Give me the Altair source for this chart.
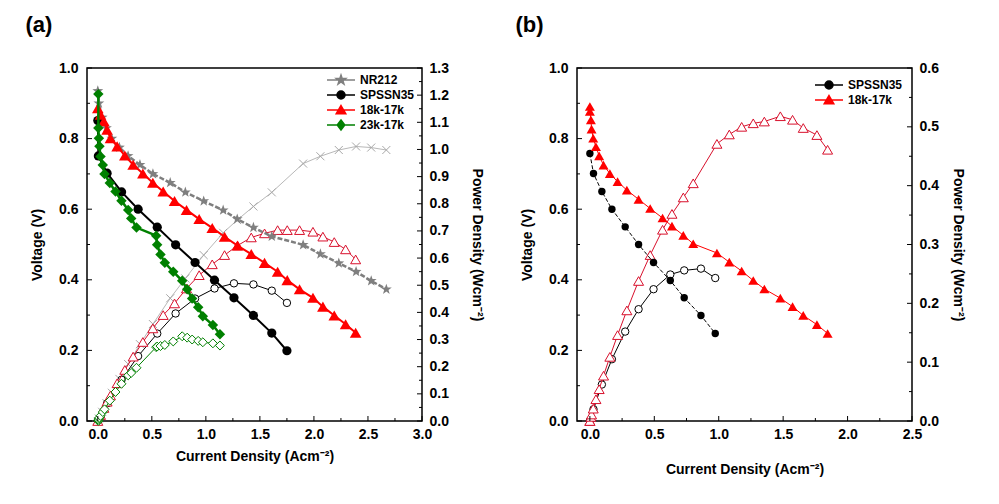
import altair as alt
import pandas as pd

# ---------------- Panel (a) data ----------------
a_nr_x = [0.0, 0.01, 0.04, 0.08, 0.13, 0.20, 0.28, 0.39, 0.51, 0.67, 0.81, 0.98, 1.16, 1.29, 1.44, 1.61, 1.90, 2.06, 2.23, 2.39, 2.53, 2.67]
a_nr_v = [0.935, 0.90, 0.86, 0.83, 0.80, 0.775, 0.751, 0.726, 0.700, 0.675, 0.648, 0.623, 0.597, 0.572, 0.548, 0.523, 0.499, 0.473, 0.447, 0.423, 0.397, 0.373]
a_nr_p = [0.0, 0.009, 0.034, 0.066, 0.104, 0.155, 0.21, 0.283, 0.357, 0.452, 0.525, 0.611, 0.693, 0.740, 0.790, 0.842, 0.948, 0.975, 0.998, 1.011, 1.007, 0.998]

a_sp_x = [0.0, 0.005, 0.086, 0.22, 0.373, 0.55, 0.72, 0.90, 1.08, 1.26, 1.44, 1.61, 1.75]
a_sp_v = [0.851, 0.751, 0.702, 0.649, 0.600, 0.549, 0.499, 0.449, 0.399, 0.349, 0.299, 0.249, 0.199]
a_sp_p = [0.0, 0.004, 0.065, 0.152, 0.239, 0.322, 0.396, 0.451, 0.488, 0.507, 0.503, 0.480, 0.435]

a_18_x = [0.0, 0.025, 0.056, 0.086, 0.117, 0.179, 0.25, 0.327, 0.417, 0.509, 0.605, 0.71, 0.821, 0.938, 1.059, 1.173, 1.293, 1.42, 1.543, 1.664, 1.753, 1.867, 1.991, 2.083, 2.188, 2.293, 2.386]
a_18_v = [0.886, 0.868, 0.849, 0.825, 0.801, 0.778, 0.752, 0.726, 0.701, 0.675, 0.650, 0.623, 0.598, 0.572, 0.547, 0.522, 0.497, 0.473, 0.448, 0.423, 0.399, 0.373, 0.349, 0.324, 0.299, 0.274, 0.250]
a_18_p = [0.0, 0.022, 0.048, 0.071, 0.094, 0.139, 0.188, 0.237, 0.291, 0.341, 0.390, 0.433, 0.488, 0.537, 0.577, 0.611, 0.646, 0.676, 0.691, 0.703, 0.703, 0.703, 0.697, 0.679, 0.659, 0.632, 0.595]

a_23_x = [0.005, 0.005, 0.01, 0.015, 0.025, 0.046, 0.062, 0.111, 0.164, 0.219, 0.281, 0.309, 0.358, 0.54, 0.549, 0.58, 0.62, 0.698, 0.781, 0.827, 0.873, 0.929, 0.972, 1.065, 1.13]
a_23_v = [0.926, 0.830, 0.801, 0.778, 0.749, 0.725, 0.700, 0.674, 0.650, 0.624, 0.598, 0.574, 0.548, 0.525, 0.499, 0.472, 0.448, 0.423, 0.397, 0.373, 0.347, 0.322, 0.297, 0.272, 0.246]
a_23_p = [0.0, 0.004, 0.008, 0.012, 0.019, 0.033, 0.043, 0.075, 0.107, 0.137, 0.168, 0.177, 0.196, 0.272, 0.274, 0.276, 0.280, 0.293, 0.312, 0.307, 0.300, 0.295, 0.290, 0.286, 0.278]

# ---------------- Panel (b) data ----------------
b_sp_x = [0.0, 0.028, 0.093, 0.171, 0.274, 0.378, 0.494, 0.624, 0.732, 0.862, 0.973]
b_sp_v = [0.758, 0.701, 0.650, 0.600, 0.550, 0.500, 0.449, 0.398, 0.349, 0.299, 0.248]
b_sp_p = [0.0, 0.020, 0.062, 0.105, 0.152, 0.190, 0.224, 0.249, 0.256, 0.259, 0.243]

b_18_x = [0.0, 0.0, 0.008, 0.013, 0.026, 0.047, 0.072, 0.106, 0.155, 0.215, 0.287, 0.378, 0.468, 0.564, 0.637, 0.725, 0.802, 0.986, 1.082, 1.178, 1.268, 1.354, 1.478, 1.573, 1.656, 1.762, 1.845]
b_18_v = [0.891, 0.877, 0.853, 0.827, 0.801, 0.777, 0.751, 0.725, 0.701, 0.678, 0.654, 0.628, 0.602, 0.575, 0.552, 0.526, 0.502, 0.476, 0.450, 0.425, 0.398, 0.374, 0.348, 0.324, 0.299, 0.273, 0.248]
b_18_p = [0.0, 0.0, 0.007, 0.011, 0.021, 0.037, 0.054, 0.077, 0.109, 0.146, 0.188, 0.238, 0.282, 0.325, 0.352, 0.380, 0.404, 0.471, 0.487, 0.500, 0.506, 0.509, 0.518, 0.512, 0.498, 0.486, 0.461]

# ---------------- axes ticks ----------------
a_x_major = [0.0, 0.5, 1.0, 1.5, 2.0, 2.5, 3.0]
a_x_minor = [0.25, 0.75, 1.25, 1.75, 2.25, 2.75]
b_x_major = [0.0, 0.5, 1.0, 1.5, 2.0, 2.5]
b_x_minor = [0.25, 0.75, 1.25, 1.75, 2.25]
v_major = [0.0, 0.2, 0.4, 0.6, 0.8, 1.0]
v_minor = [0.1, 0.3, 0.5, 0.7, 0.9]
a_p_major = [0.0, 0.1, 0.2, 0.3, 0.4, 0.5, 0.6, 0.7, 0.8, 0.9, 1.0, 1.1, 1.2, 1.3]
a_p_minor = [0.05, 0.15, 0.25, 0.35, 0.45, 0.55, 0.65, 0.75, 0.85, 0.95, 1.05, 1.15, 1.25]
b_p_major = [0.0, 0.1, 0.2, 0.3, 0.4, 0.5, 0.6]
b_p_minor = [0.05, 0.15, 0.25, 0.35, 0.45, 0.55]

a_names = ["NR212", "SPSSN35", "18k-17k", "23k-17k"]
b_names = ["SPSSN35", "18k-17k"]

FONT = "Liberation Sans"
W, H = 335, 353
RED = "#ff0000"
RED_P = "#d8102c"
GREEN = "#008000"
GRAY = "#7f7f7f"
LGRAY = "#b8b8b8"

STAR = "M0,-1L0.235,-0.324L0.951,-0.309L0.38,0.124L0.588,0.809L0,0.4L-0.588,0.809L-0.38,0.124L-0.951,-0.309L-0.235,-0.324Z"
XMARK = "M-1,-1L1,1M-1,1L1,-1"
LINE = "M-3.5,0H3.5"
L_STAR = LINE + "M0,-1.25L0.29,-0.4L1.19,-0.39L0.48,0.16L0.74,1.01L0,0.5L-0.74,1.01L-0.48,0.16L-1.19,-0.39L-0.29,-0.4Z"
L_CIRC = LINE + "M1,0A1,1,0,1,1,-1,0A1,1,0,1,1,1,0Z"
L_TRI = LINE + "M0,-1.1L1.2,0.95L-1.2,0.95Z"
L_DIA = LINE + "M0,-1.25L0.95,0L0,1.25L-0.95,0Z"


def sc(dom):
    return alt.Scale(domain=dom, nice=False, zero=False)


def legend_layer(names, colors, paths, lx, ly):
    df = pd.DataFrame({"series": names})
    leg = alt.Legend(orient="none", legendX=lx, legendY=ly, title=None, labelFont=FONT,
                     labelFontSize=12, labelFontWeight="bold", labelColor="black",
                     symbolSize=64, symbolStrokeWidth=1.5, labelOffset=13, rowPadding=0,
                     symbolOpacity=1)
    return alt.Chart(df).transform_filter("false").mark_point(filled=True, opacity=1).encode(
        shape=alt.Shape("series:N", scale=alt.Scale(domain=names, range=paths), legend=leg),
        fill=alt.Fill("series:N", scale=alt.Scale(domain=names, range=colors), legend=leg),
        stroke=alt.Stroke("series:N", scale=alt.Scale(domain=names, range=colors), legend=leg),
    )


def panel(title, xdom, xmaj, xmin, pdom, pmaj, pmin, v_series, p_series, legend, xt_pad, rt_pad):
    h = H
    vdom = [0.0, 1.0]
    xaxis = alt.Axis(values=xmaj, format=".1f", title="Current Density (Acm\u207B\u00B2)",
                     labelPadding=6, titlePadding=xt_pad, labelFlush=False)
    vaxis = alt.Axis(values=v_major, format=".1f", title="Voltage (V)", orient="left",
                     labelPadding=9, titlePadding=14)
    paxis = alt.Axis(values=pmaj, format=".1f", title="Power Density (Wcm\u207B\u00B2)", orient="right",
                     labelPadding=7, titlePadding=rt_pad)

    def X(field="x"):
        return alt.X(field + ":Q", scale=sc(xdom), axis=xaxis)

    def YV(field="v"):
        return alt.Y(field + ":Q", scale=sc(vdom), axis=vaxis)

    def YP(field="p"):
        return alt.Y(field + ":Q", scale=sc(pdom), axis=paxis)

    p_layers = []
    for df, lkw, pkw in p_series:
        base = alt.Chart(df)
        p_layers.append(base.mark_line(**lkw).encode(x=X(), y=YP()))
        p_layers.append(base.mark_point(**pkw).encode(x=X(), y=YP()))
    for vals, ln in [(pmaj, 5), (pmin, 3)]:
        p_layers.append(alt.Chart(pd.DataFrame({"t": vals})).mark_rule(color="black", strokeWidth=1).encode(
            y=YP("t"), x=alt.value(W), x2=alt.value(W - ln)))

    v_layers = []
    for df, lkw, pkw in v_series:
        base = alt.Chart(df)
        v_layers.append(base.mark_line(**lkw).encode(x=X(), y=YV()))
        v_layers.append(base.mark_point(**pkw).encode(x=X(), y=YV()))
    for vals, ln in [(v_major, 5), (v_minor, 3)]:
        v_layers.append(alt.Chart(pd.DataFrame({"t": vals})).mark_rule(color="black", strokeWidth=1).encode(
            y=YV("t"), x=alt.value(0), x2=alt.value(ln)))
    for vals, ln in [(xmaj, 5), (xmin, 3)]:
        v_layers.append(alt.Chart(pd.DataFrame({"t": vals})).mark_rule(color="black", strokeWidth=1).encode(
            x=X("t"), y=alt.value(h), y2=alt.value(h - ln)))
    v_layers.append(legend)

    return alt.layer(alt.layer(*p_layers), alt.layer(*v_layers)).resolve_scale(y="independent").properties(
        width=W, height=h,
        title=alt.TitleParams(title, anchor="start", frame="bounds", fontSize=22, fontWeight="bold",
                              font=FONT, color="black", offset=24, dx=-5))


def mk(xs, vs, ps):
    return pd.DataFrame({"x": xs, "v": vs, "p": ps})


a_nr = mk(a_nr_x, a_nr_v, a_nr_p)
a_sp = mk(a_sp_x, a_sp_v, a_sp_p)
a_18 = mk(a_18_x, a_18_v, a_18_p)
a_23 = mk(a_23_x, a_23_v, a_23_p)
b_sp = mk(b_sp_x, b_sp_v, b_sp_p)
b_18 = mk(b_18_x, b_18_v, b_18_p)

open_pt = dict(filled=True, fill="white", strokeWidth=1, opacity=1)

a_p_series = [
    (a_nr, dict(color=LGRAY, strokeWidth=1), dict(shape=XMARK, filled=False, color="#a8a8a8", size=64, strokeWidth=1, opacity=1)),
    (a_sp, dict(color="black", strokeWidth=1), dict(shape="circle", stroke="black", size=55, **open_pt)),
    (a_18, dict(color=RED_P, strokeWidth=1), dict(shape="triangle-up", stroke=RED_P, size=100, **open_pt)),
    (a_23, dict(color=GREEN, strokeWidth=1), dict(shape="diamond", stroke=GREEN, size=80, **open_pt)),
]
a_v_series = [
    (a_nr, dict(color=GRAY, strokeWidth=2.5, strokeDash=[5, 2]), dict(shape=STAR, filled=True, color=GRAY, size=130, opacity=1)),
    (a_sp, dict(color="black", strokeWidth=2), dict(shape="circle", filled=True, color="black", size=85, opacity=1)),
    (a_18, dict(color=RED, strokeWidth=2), dict(shape="triangle-up", filled=True, color=RED, size=135, opacity=1)),
    (a_23, dict(color=GREEN, strokeWidth=2.5), dict(shape="diamond", filled=True, color=GREEN, size=110, opacity=1)),
]
b_p_series = [
    (b_sp, dict(color="black", strokeWidth=1), dict(shape="circle", stroke="black", size=55, **open_pt)),
    (b_18, dict(color=RED_P, strokeWidth=1), dict(shape="triangle-up", stroke=RED_P, size=100, **open_pt)),
]
b_v_series = [
    (b_sp, dict(color="black", strokeWidth=1, strokeDash=[4, 2]), dict(shape="circle", filled=True, color="black", size=55, opacity=1)),
    (b_18, dict(color=RED, strokeWidth=1), dict(shape="triangle-up", filled=True, color=RED, size=100, opacity=1)),
]

leg_a = legend_layer(a_names, [GRAY, "black", RED, GREEN], [L_STAR, L_CIRC, L_TRI, L_DIA], 248, 6)
leg_b = legend_layer(b_names, ["black", RED], [L_CIRC, L_TRI], 246, 11)

pa = panel("(a)", [-0.1, 3.0], a_x_major, a_x_minor, [0.0, 1.3], a_p_major, a_p_minor,
           a_v_series, a_p_series, leg_a, 8, 21)
pb = panel("(b)", [-0.1, 2.5], b_x_major, b_x_minor, [0.0, 0.6], b_p_major, b_p_minor,
           b_v_series, b_p_series, leg_b, 21, 12)

chart = alt.hconcat(pa, pb, spacing=29).resolve_scale(
    x="independent", fill="independent", stroke="independent", shape="independent"
).resolve_legend(fill="independent", stroke="independent", shape="independent").properties(
    padding={"left": 16, "top": 5, "right": 5, "bottom": 5}, background="white"
).configure_view(stroke="black", strokeWidth=1.5).configure_axis(
    grid=False, ticks=False, domain=False, labelFont=FONT, labelFontSize=14, labelFontWeight="bold",
    labelColor="black", titleFont=FONT, titleFontSize=14, titleFontWeight="bold", titleColor="black",
    labelOverlap=False
)

chart.save("out.html", embed_options={"renderer": "svg", "actions": False})
